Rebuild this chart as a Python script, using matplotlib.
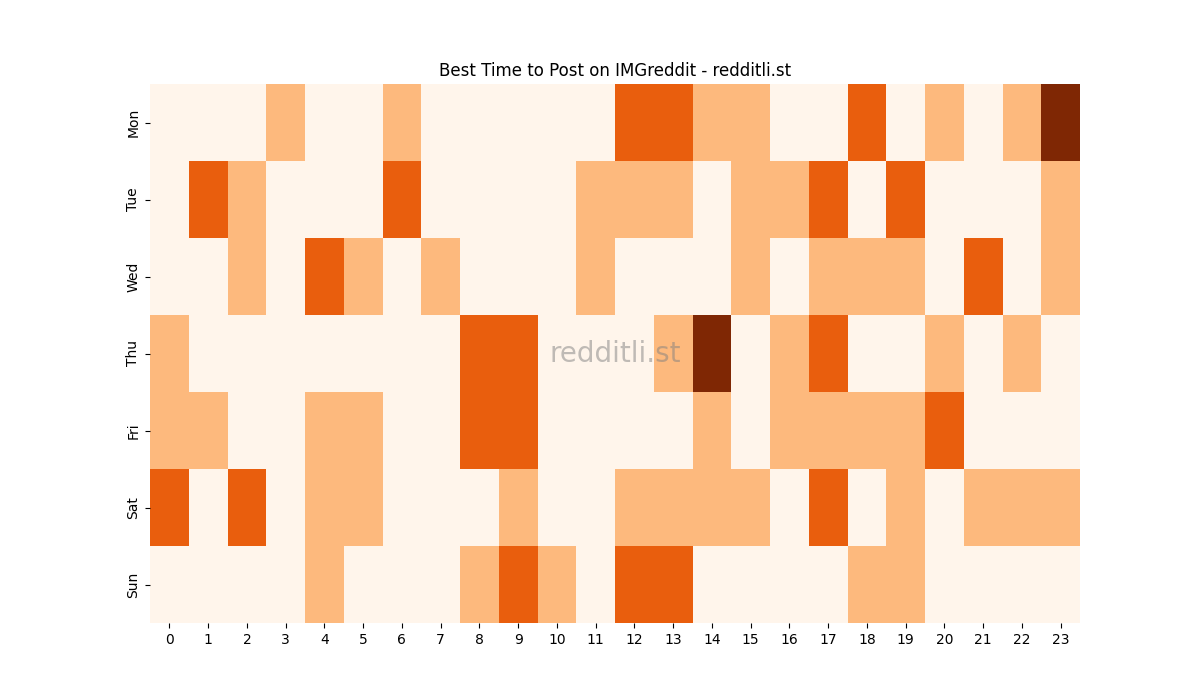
import matplotlib
matplotlib.use("Agg")
import matplotlib.pyplot as plt
import seaborn as sns
import numpy as np

days = ["Mon", "Tue", "Wed", "Thu", "Fri", "Sat", "Sun"]
hours = list(range(24))
mon = [0,0,0,1,0,0,1,0,0,0,0,0,2,2,1,1,0,0,2,0,1,0,1,3]
tue = [0,2,1,0,0,0,2,0,0,0,0,1,1,1,0,1,1,2,0,2,0,0,0,1]
wed = [0,0,1,0,2,1,0,1,0,0,0,1,0,0,0,1,0,1,1,1,0,2,0,1]
thu = [1,0,0,0,0,0,0,0,2,2,0,0,0,1,3,0,1,2,0,0,1,0,1,0]
fri = [1,1,0,0,1,1,0,0,2,2,0,0,0,0,1,0,1,1,1,1,2,0,0,0]
sat = [2,0,2,0,1,1,0,0,0,1,0,0,1,1,1,1,0,2,0,1,0,1,1,1]
sun = [0,0,0,0,1,0,0,0,1,2,1,0,2,2,0,0,0,0,1,1,0,0,0,0]

data = np.array([mon, tue, wed, thu, fri, sat, sun])

fig, ax = plt.subplots(figsize=(12, 7), dpi=100)
sns.heatmap(data, cmap="Oranges", vmin=0, vmax=3, cbar=False, ax=ax,
            xticklabels=hours, yticklabels=days)
ax.set_title("Best Time to Post on IMGreddit - redditli.st")
ax.tick_params(axis='y', rotation=90)
ax.tick_params(axis='x', rotation=0)
ax.text(0.5, 0.5, "redditli.st", transform=ax.transAxes, ha="center", va="center",
        fontsize=20, color="grey", alpha=0.5)
fig.savefig("out.png")
